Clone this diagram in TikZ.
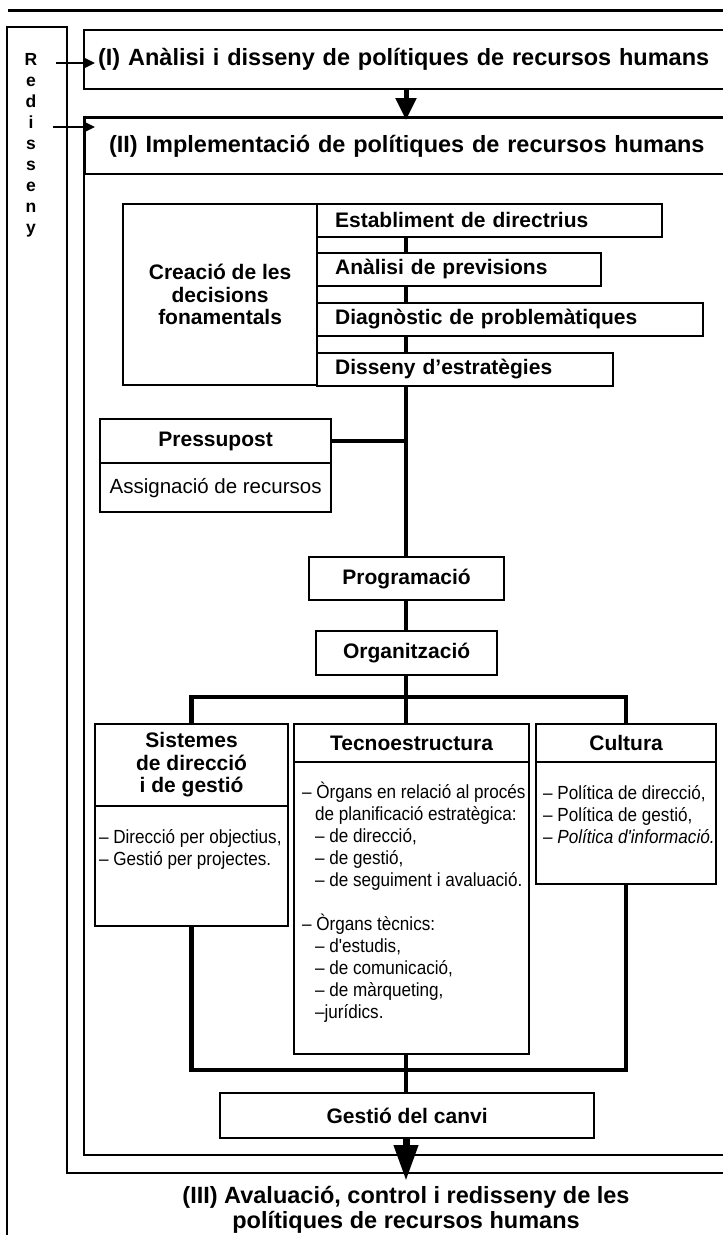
\documentclass[tikz,border=0pt]{standalone}
\usepackage{fontspec}
\setmainfont{Liberation Sans}
\newfontfamily\condfont{Liberation Sans}[FakeStretch=0.9]
\usetikzlibrary{arrows.meta,backgrounds}

\newcommand\titlefont{\bfseries\fontsize{23.5}{25}\selectfont}
\newcommand\labelfont{\bfseries\fontsize{21}{22.5}\selectfont}
\newcommand\listfont{\condfont\fontsize{19}{22}\selectfont}
\newcommand\listindent{\hspace*{13pt}}
% fixed-height list text, top aligned: height, width, top gap, lines
\newcommand\listtext[4]{\parbox[c][#1][t]{#2}{\raggedright\vspace*{#3}#4}}

\tikzset{
  frame/.style={line width=2.6pt},
  base/.style={draw, line width=2.2pt, fill=white, inner sep=0pt, anchor=north west},
  box/.style={base, font=\labelfont, align=center},
  stepbox/.style={base, font=\labelfont, align=left, inner xsep=18pt, minimum height=32.5pt},
  listbox/.style={base, inner xsep=7pt, font=\listfont},
  link/.style={line width=4.6pt},
  smallarrow/.style={line width=2.6pt, -{Triangle[length=12pt,width=11pt]}},
  bigarrow/.style={line width=5pt, -{Triangle[length=22pt,width=20pt]}},
  endarrow/.style={line width=7pt, -{Triangle[length=36pt,width=23pt]}},
}

\begin{document}
\begin{tikzpicture}[x=1pt,y=-1pt]
\clip (0,0) rectangle (723,1235);
\begin{scope}[on background layer]
  \fill[white] (0,0) rectangle (723,1235);
\end{scope}

\coordinate (spine) at (406,0);

% rule and outer frames
\draw[line width=3pt] (8,10) -- (723,10);
\draw[frame] (7,1240) -- (7,27) -- (67,27) -- (67,1173) -- (730,1173);
\draw[frame] (84,117) rectangle (740,1155);

% Redisseny column
\node[font=\bfseries\fontsize{17.5}{21}\selectfont, align=center, inner sep=0pt, anchor=north]
  (redis) at (31,53) {R\\e\\d\\i\\s\\s\\e\\n\\y};

% phase headers
\node[base, font=\titlefont, align=left, minimum height=59pt, text width=640pt, inner xsep=14pt]
  (fase1) at (83,29) {(I) Anàlisi i disseny de polítiques de recursos humans};
\node[base, font=\titlefont, align=left, minimum height=56pt, text width=620pt, inner xsep=24pt]
  (fase2) at (84,117) {(II) Implementació de polítiques de recursos humans};

% fundamental decisions
\node[box, minimum width=194pt, minimum height=181pt] (crea) at (122,203)
  {Creació de les\\decisions\\fonamentals};
\node[stepbox, text width=309pt] (estab) at (316,203) {Establiment de directrius};
\node[stepbox, text width=248pt] (prev)  at (316,252) {Anàlisi de previsions};
\node[stepbox, text width=350pt] (diag)  at (316,302) {Diagnòstic de problemàtiques};
\node[stepbox, text width=260pt] (estr)  at (316,352) {Disseny d'estratègies};

% budget
\node[box, minimum width=231pt, minimum height=44pt] (presshead) at (99,418) {Pressupost};
\node[box, font=\fontsize{20.5}{22}\selectfont, minimum width=231pt, minimum height=49pt]
  (pressbody) at (99,462) {Assignació de recursos};

% programming and organisation
\node[box, minimum width=195pt, minimum height=43pt] (prog) at (308,556) {Programació};
\node[box, minimum width=181pt, minimum height=44pt] (org)  at (315,630) {Organització};

% three organisational blocks
\node[box, minimum width=193pt, minimum height=82pt] (sisthead) at (94,723)
  {Sistemes\\de direcció\\i de gestió};
\node[listbox, inner xsep=4pt] (sistbody) at (94,805) {\listtext{120pt}{185pt}{23pt}{%
  \mbox{– Direcció per objectius,}\\
  \mbox{– Gestió per projectes.}}};

\node[box, minimum width=235pt, minimum height=38pt] (tecnohead) at (293,723) {Tecnoestructura};
\node[listbox, inner xsep=8pt] (tecnobody) at (293,761) {\listtext{292pt}{219pt}{20pt}{%
  \mbox{– Òrgans en relació al procés}\\
  \listindent\mbox{de planificació estratègica:}\\
  \listindent\mbox{– de direcció,}\\
  \listindent\mbox{– de gestió,}\\
  \listindent\mbox{– de seguiment i avaluació.}\\[22pt]
  \mbox{– Òrgans tècnics:}\\
  \listindent\mbox{– d'estudis,}\\
  \listindent\mbox{– de comunicació,}\\
  \listindent\mbox{– de màrqueting,}\\
  \listindent\mbox{–jurídics.}}};

\node[box, minimum width=180pt, minimum height=38pt] (culthead) at (535,723) {Cultura};
\node[listbox] (cultbody) at (535,761) {\listtext{122pt}{166pt}{23pt}{%
  \mbox{– Política de direcció,}\\
  \mbox{– Política de gestió,}\\
  \mbox{\itshape – Política d'informació.}}};

% change management
\node[box, minimum width=374pt, minimum height=45pt] (gest) at (219,1092) {Gestió del canvi};

% phase III caption
\node[font=\titlefont, align=center, inner sep=0pt] (fase3) at (406,1210)
  {(III) Avaluació, control i redisseny de les\\polítiques de recursos humans};

% connectors behind the boxes
\coordinate (bj)  at (406,697);
\coordinate (bj2) at (406,1070);
\begin{scope}[on background layer]
  \draw[link] (estab.south -| spine) -- (prog.north -| spine);
  \draw[link] (presshead.east) -- (presshead.east -| spine);
  \draw[link] (prog.south -| spine) -- (org.north -| spine);
  \draw[link] (org.south -| spine) -- (bj);
  \draw[link] (sisthead.north) |- (bj) -| (culthead.north);
  \draw[link] (bj) -- (tecnohead.north -| bj);
  \draw[link] (sistbody.south) |- (bj2) -| (cultbody.south);
  \draw[link] (tecnobody.south -| bj2) -- (gest.north -| bj2);
\end{scope}

% flow arrows
\coordinate (r1) at (56,63);
\coordinate (r2) at (53,127);
\draw[smallarrow] (r1) -- ([xshift=12pt]fase1.west |- r1);
\draw[smallarrow] (r2) -- ([xshift=11pt]fase2.west |- r2);
\draw[bigarrow] (fase1.south -| spine) -- ([yshift=-3pt]fase2.north -| spine);
\coordinate (tip3) at (406,1181);
\draw[endarrow] (gest.south -| spine) -- (tip3);
\end{tikzpicture}
\end{document}
